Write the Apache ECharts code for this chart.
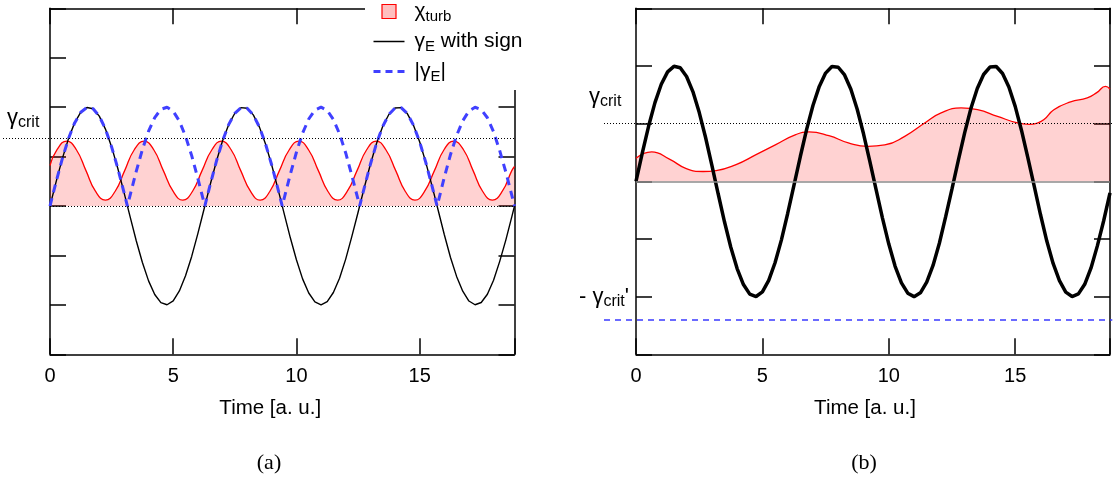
<!DOCTYPE html>
<html><head><meta charset="utf-8">
<script src="https://cdn.jsdelivr.net/npm/echarts@6/dist/echarts.min.js"></script>
<style>html,body{margin:0;padding:0;background:#fff}#c{width:1113px;height:482px}</style>
</head><body><div id="c"></div>
<script>
// ---------- data ----------
const tickLabels = ['0', '5', '10', '15'];
const xMaxA = 18.85, xMaxB = 18.75;
const gammaCritA = 0.69;      // left panel γcrit level
const gammaCritB = 0.5;       // right panel γcrit level
const gammaCritPrimeB = -1.2; // right panel -γcrit' level

// γE with sign (t = 0 .. 18.75 step 0.25)
const gammaTime = [0,0.25,0.5,0.75,1,1.25,1.5,1.75,2,2.25,2.5,2.75,3,3.25,3.5,3.75,4,4.25,4.5,4.75,5,5.25,5.5,5.75,6,6.25,6.5,6.75,7,7.25,7.5,7.75,8,8.25,8.5,8.75,9,9.25,9.5,9.75,10,10.25,10.5,10.75,11,11.25,11.5,11.75,12,12.25,12.5,12.75,13,13.25,13.5,13.75,14,14.25,14.5,14.75,15,15.25,15.5,15.75,16,16.25,16.5,16.75,17,17.25,17.5,17.75,18,18.25,18.5,18.75];
const gammaVals = [0.000,0.247,0.479,0.682,0.841,0.949,0.997,0.984,0.909,0.778,0.598,0.382,0.141,-0.108,-0.351,-0.572,-0.757,-0.895,-0.978,-0.999,-0.959,-0.859,-0.706,-0.510,-0.279,-0.033,0.215,0.450,0.657,0.823,0.938,0.995,0.989,0.922,0.798,0.625,0.412,0.173,-0.075,-0.319,-0.544,-0.737,-0.880,-0.970,-1.000,-0.967,-0.875,-0.730,-0.537,-0.307,-0.066,0.182,0.420,0.633,0.804,0.926,0.991,0.995,0.935,0.818,0.650,0.441,0.206,-0.040,-0.288,-0.518,-0.712,-0.862,-0.961,-0.999,-0.976,-0.893,-0.751,-0.560,-0.342,-0.100];
const gammaEndTime = 18.85, gammaEndVal = 0.0;

// |γE| (with the zero touches)
const absTime = [0,0.25,0.5,0.75,1,1.25,1.5,1.75,2,2.25,2.5,2.75,3,3.1416,3.25,3.5,3.75,4,4.25,4.5,4.75,5,5.25,5.5,5.75,6,6.25,6.2832,6.5,6.75,7,7.25,7.5,7.75,8,8.25,8.5,8.75,9,9.25,9.4248,9.5,9.75,10,10.25,10.5,10.75,11,11.25,11.5,11.75,12,12.25,12.5,12.566,12.75,13,13.25,13.5,13.75,14,14.25,14.5,14.75,15,15.25,15.5,15.708,15.75,16,16.25,16.5,16.75,17,17.25,17.5,17.75,18,18.25,18.5,18.75,18.85];
const absVals = [0.000,0.247,0.479,0.682,0.841,0.949,0.997,0.984,0.909,0.778,0.598,0.382,0.141,0.000,0.108,0.351,0.572,0.757,0.895,0.978,0.999,0.959,0.859,0.706,0.510,0.279,0.033,0.000,0.215,0.450,0.657,0.823,0.938,0.995,0.989,0.922,0.798,0.625,0.412,0.173,0.000,0.075,0.319,0.544,0.737,0.880,0.970,1.000,0.967,0.875,0.730,0.537,0.307,0.066,0.000,0.182,0.420,0.633,0.804,0.926,0.991,0.995,0.935,0.818,0.650,0.441,0.206,0.000,0.040,0.288,0.518,0.712,0.862,0.961,0.999,0.976,0.893,0.751,0.560,0.342,0.100,0.000];

// χturb, panel (a)
const chiTimeA = [0,0.28,0.68,1.07,1.46,1.85,2.25,2.64,3.03,3.42,3.82,4.21,4.60,5.00,5.39,5.78,6.17,6.57,6.96,7.35,7.74,8.14,8.53,8.92,9.31,9.71,10.10,10.49,10.89,11.28,11.67,12.06,12.46,12.85,13.24,13.63,14.03,14.42,14.81,15.20,15.60,15.99,16.38,16.78,17.17,17.56,17.95,18.35,18.74,18.85];
const chiA = [0.41,0.569,0.656,0.569,0.358,0.147,0.060,0.147,0.358,0.569,0.656,0.569,0.358,0.147,0.060,0.147,0.358,0.569,0.656,0.569,0.358,0.147,0.060,0.147,0.358,0.569,0.656,0.569,0.358,0.147,0.060,0.147,0.358,0.569,0.656,0.569,0.358,0.147,0.060,0.147,0.358,0.569,0.656,0.569,0.358,0.147,0.060,0.147,0.358,0.40];

// χturb, panel (b)
const chiTimeB = [0,0.62,1.34,1.99,2.65,3.17,3.96,4.75,5.53,6.32,6.84,7.63,8.40,9.18,9.84,10.63,11.42,12.07,12.86,13.51,14.30,15.09,15.55,15.89,16.14,16.53,17.19,17.85,18.24,18.57,18.75];
const chiB = [0.20,0.255,0.19,0.11,0.085,0.093,0.145,0.231,0.318,0.405,0.428,0.396,0.333,0.303,0.315,0.39,0.506,0.593,0.636,0.621,0.563,0.506,0.494,0.506,0.535,0.621,0.688,0.723,0.771,0.823,0.80];

// ---------- build ----------
const zip = (a, b) => a.map((t, i) => [t, b[i]]);
const gammaA = zip(gammaTime, gammaVals).concat([[gammaEndTime, gammaEndVal]]);
const gammaB = zip(gammaTime, gammaVals);
const absA = zip(absTime, absVals);

const FONT = 'Liberation Sans, Arial, sans-serif';
const tickFmt = v => (Math.abs(v % 5) < 1e-9 && v / 5 < tickLabels.length) ? tickLabels[v / 5] : '';
const AX = {color: '#000', width: 1.5};
const G = {top: 8.3, bottom: 127.7};

function mkX(grid, pos, max, labels, nameShift) {
  const o = {
    type: 'value', gridIndex: grid, position: pos, min: 0, max: max, interval: 5,
    axisLine: {show: true, onZero: false, lineStyle: AX},
    axisTick: {show: true, inside: true, length: 16, lineStyle: AX},
    axisLabel: {show: labels, formatter: tickFmt, fontSize: 20, color: '#000', margin: 12, fontFamily: FONT},
    splitLine: {show: false}
  };
  if (labels) {
    o.name = 'Time [a. u.]';
    o.nameLocation = 'middle';
    o.nameGap = 44;
    o.nameTextStyle = {fontSize: 20.5, color: '#000', fontFamily: FONT, padding: [0, nameShift, 0, 0]};
  }
  return o;
}
function mkY(grid, pos, min, max) {
  return {
    type: 'value', gridIndex: grid, position: pos, min: min, max: max, interval: 0.5,
    axisLine: {show: true, onZero: false, lineStyle: AX},
    axisTick: {show: true, inside: true, length: 16, lineStyle: AX},
    axisLabel: {show: false}, splitLine: {show: false}
  };
}
const hidden = (grid, min, max) => ({type: 'value', gridIndex: grid, min: min, max: max, show: false});

const richBase = {
  g: {fontSize: 21, fontFamily: FONT, color: '#000'},
  f: {fontSize: 21, fontFamily: FONT, color: '#000', padding: [0, 0, 0, 5]},
  s: {fontSize: 15, fontFamily: FONT, color: '#000', padding: [10, 0, 0, 0]}
};
const richLabel = {
  g: {fontSize: 22, fontFamily: FONT, color: '#000'},
  s: {fontSize: 16, fontFamily: FONT, color: '#000', padding: [10, 0, 0, 0]}
};
const legendText = {chi: '{f|χ}{s|turb}', gammaE: '{f|γ}{s|E}{g| with sign}', absGamma: '{f||γ}{s|E}{g||}'};

const option = {
  animation: false,
  backgroundColor: '#fff',
  grid: [
    {left: 50, right: 598.5, top: G.top, bottom: G.bottom},
    {left: 636, right: 0.7, top: G.top, bottom: G.bottom},
    {left: 3, right: 598.5, top: G.top, bottom: G.bottom},
    {left: 604, right: 0.7, top: G.top, bottom: G.bottom}
  ],
  xAxis: [
    mkX(0, 'bottom', xMaxA, true, 24), mkX(0, 'top', xMaxA, false),
    mkX(1, 'bottom', xMaxB, true, 16), mkX(1, 'top', xMaxB, false),
    hidden(2, 0, 1), hidden(3, 0, 1)
  ],
  yAxis: [
    mkY(0, 'left', -1.5, 2), mkY(0, 'right', -1.5, 2),
    mkY(1, 'left', -1.5, 1.5), mkY(1, 'right', -1.5, 1.5),
    hidden(2, -1.5, 2), hidden(3, -1.5, 1.5)
  ],
  legend: {
    orient: 'vertical', left: 365, top: 0, padding: [1, 4, 6, 7], itemGap: 7,
    itemWidth: 31, itemHeight: 14, backgroundColor: '#fff', selectedMode: false,
    data: [
      {name: 'chi', icon: 'path://M0,0L10,0L10,10L0,10Z', itemStyle: {color: 'rgba(255,0,0,0.25)', borderColor: '#ff0000', borderWidth: 1.2}},
      {name: 'gammaE', itemStyle: {opacity: 0}, lineStyle: {width: 1.5, color: '#000'}},
      {name: 'absGamma', itemStyle: {opacity: 0}, lineStyle: {width: 3, color: '#4040ff', type: [7, 5]}}
    ],
    formatter: n => legendText[n],
    textStyle: {fontSize: 21, fontFamily: FONT, color: '#000', rich: richBase}
  },
  series: [
    {name: 'chi', type: 'line', xAxisIndex: 0, yAxisIndex: 0, data: zip(chiTimeA, chiA), smooth: true, symbol: 'none',
     lineStyle: {color: '#ff0000', width: 1.3}, itemStyle: {color: '#ff0000'}, areaStyle: {color: 'rgba(255,0,0,0.25)'},
     markLine: {silent: true, symbol: 'none', label: {show: false}, lineStyle: {color: '#000', type: [1, 2], width: 1}, data: [{yAxis: 0}]}},
    {name: 'gammaE', type: 'line', xAxisIndex: 0, yAxisIndex: 0, data: gammaA, symbol: 'none',
     lineStyle: {color: '#000', width: 1.4}, itemStyle: {color: '#000'}},
    {name: 'absGamma', type: 'line', xAxisIndex: 0, yAxisIndex: 0, data: absA, symbol: 'none',
     lineStyle: {color: '#4040ff', width: 3, type: [8, 6]}, itemStyle: {color: '#4040ff'}},
    {name: 'chi', type: 'line', xAxisIndex: 2, yAxisIndex: 2, data: zip(chiTimeB, chiB), smooth: true, symbol: 'none',
     lineStyle: {color: '#ff0000', width: 1.3}, itemStyle: {color: '#ff0000'}, areaStyle: {color: 'rgba(255,0,0,0.25)'},
     markLine: {silent: true, symbol: 'none', label: {show: false}, lineStyle: {color: '#8c8c8c', type: 'solid', width: 1.5}, data: [{yAxis: 0}]}},
    {name: 'gammaEb', type: 'line', xAxisIndex: 2, yAxisIndex: 2, data: gammaB, symbol: 'none',
     lineStyle: {color: '#000', width: 3.5}, itemStyle: {color: '#000'}},
    {name: 'critA', type: 'line', xAxisIndex: 4, yAxisIndex: 4, data: [], symbol: 'none',
     markLine: {silent: true, symbol: 'none', label: {show: false}, lineStyle: {color: '#000', type: [1, 2], width: 1}, data: [{yAxis: gammaCritA}]}},
    {name: 'critB', type: 'line', xAxisIndex: 5, yAxisIndex: 5, data: [], symbol: 'none',
     markLine: {silent: true, symbol: 'none', label: {show: false}, data: [
       {yAxis: gammaCritB, lineStyle: {color: '#000', type: [1, 2], width: 1}},
       {yAxis: gammaCritPrimeB, lineStyle: {color: '#3a3aff', type: [6, 5], width: 1.5}}
     ]}}
  ],
  graphic: [
    {type: 'text', left: 7, top: 107, style: {text: '{g|γ}{s|crit}', rich: richLabel, fill: '#000'}},
    {type: 'text', left: 589, top: 86, style: {text: '{g|γ}{s|crit}', rich: richLabel, fill: '#000'}},
    {type: 'text', left: 579, top: 286, style: {text: "{g|- γ}{s|crit}{g|'}", rich: richLabel, fill: '#000'}},
    {type: 'text', x: 269, y: 463, style: {text: '(a)', font: '22px "Liberation Serif", serif', fill: '#000', align: 'center', verticalAlign: 'middle'}},
    {type: 'text', x: 864, y: 463, style: {text: '(b)', font: '22px "Liberation Serif", serif', fill: '#000', align: 'center', verticalAlign: 'middle'}}
  ]
};
const chart = echarts.init(document.getElementById('c'), null, {renderer: 'canvas'});
chart.setOption(option);
</script>
</body></html>
